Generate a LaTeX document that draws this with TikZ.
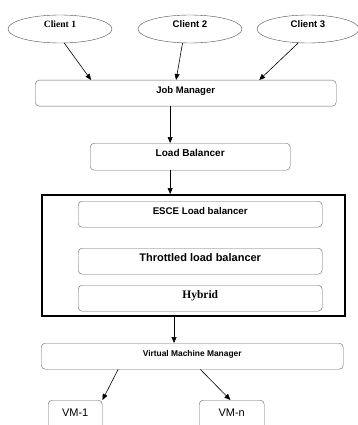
\documentclass[tikz,border=0pt]{standalone}
\usepackage{fontspec}
\setmainfont{Liberation Serif}
\setsansfont{Liberation Sans}
\usetikzlibrary{shapes, arrows.meta, positioning, calc}
\tikzset{
  sans_font/.style = {font=\sffamily\bfseries\fontsize{#1}{#1}\selectfont},
  serif_font/.style = {font=\rmfamily\bfseries\fontsize{#1}{#1}\selectfont},
  plain_font/.style = {font=\sffamily\fontsize{#1}{#1}\selectfont}
}
\tikzset{
  client/.style = {ellipse, draw=black!70, minimum width=104, minimum height=28,
    inner sep=0, text height=7, text depth=9},
  block/.style = {draw=black!60, rounded corners=4, minimum height=26, inner sep=0,
    text height=7, text depth=7, anchor=north west},
  frame_box/.style = {draw, line width=2.2, anchor=north west, inner sep=0},
  link/.style = {-{Triangle[length=6,width=5]}, line width=0.6}
}
\begin{document}
\begin{tikzpicture}[x=1pt, y=-1pt]
        \useasboundingbox (0,0) rectangle (358,425);
        \clip (0,0) rectangle (358,425);

        % Clients
        \node[client, serif_font=9.6] (client_1) at (60,29) {Client 1};
        \node[client, sans_font=9.6] (client_2) at (190,29) {Client 2};
        \node[client, sans_font=9.6, minimum width=102] (client_3) at (308,29) {Client 3};

        % Managers and balancer
        \node[block, sans_font=9.5, minimum width=301] at (35,80) (job_manager) {Job Manager};
        \node[block, sans_font=10, minimum width=200, minimum height=27] at (90,143) (load_balancer) {Load Balancer};

        % Policies
        \node[frame_box, minimum width=303, minimum height=121] at (41,194) (policies) {};
        \node[block, sans_font=9.7, minimum width=244] at (78,201) (esce) {ESCE Load balancer};
        \node[block, sans_font=11, minimum width=244] at (78,248) (throttled) {Throttled load balancer};
        \node[block, serif_font=11.5, minimum width=244] at (78,285) (hybrid) {Hybrid};

        % Virtual machines
        \node[block, sans_font=8.4, minimum width=302] at (41,343) (vm_manager) {Virtual Machine Manager};
        \node[block, plain_font=11, minimum width=54, minimum height=32, text height=8, text depth=8] at (48,400) (vm_1) {VM-1};
        \node[block, plain_font=11, minimum width=65, minimum height=32, text height=8, text depth=8] at (199,400) (vm_n) {VM-n};

        % Arrows
        \draw[link] (client_1.-73) -- ($(job_manager.north west)!0.186!(job_manager.north east)$);
        \draw[link] (client_2.-118) -- ($(job_manager.north west)!0.468!(job_manager.north east)$);
        \draw[link] (client_3.-125) -- ($(job_manager.north west)!0.744!(job_manager.north east)$);

        \coordinate (lb_in) at ($(load_balancer.north west)!0.4!(load_balancer.north east)$);
        \draw[link] (lb_in |- job_manager.south) -- (lb_in);
        \draw[link] (lb_in |- load_balancer.south) -- (lb_in |- policies.north);

        \coordinate (vmm_in) at ($(vm_manager.north west)!0.44!(vm_manager.north east)$);
        \draw[link] (vmm_in |- policies.south) -- (vmm_in);

        \draw[link] ($(vm_manager.south west)!0.255!(vm_manager.south east)$) -- (vm_1.north east);
        \draw[link] ($(vm_manager.south west)!0.527!(vm_manager.south east)$) -- ($(vm_n.north west)!0.48!(vm_n.north east)$);
\end{tikzpicture}
\end{document}
